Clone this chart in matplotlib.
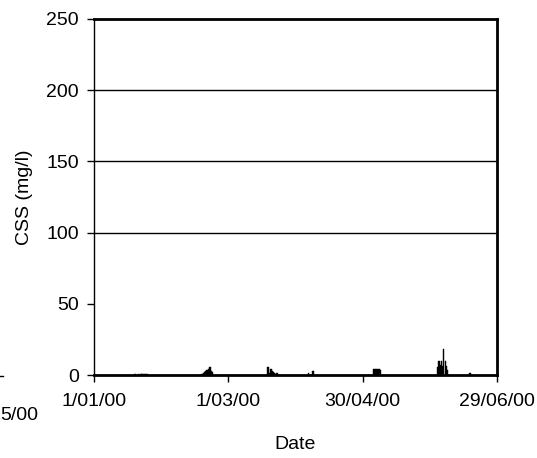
import matplotlib
matplotlib.use("Agg")
import matplotlib.pyplot as plt
import matplotlib.dates as mdates
from matplotlib.ticker import FuncFormatter
from matplotlib.lines import Line2D
import pandas as pd

plt.rcParams['font.family'] = ['Liberation Sans', 'DejaVu Sans']

# CSS samples: days after 1 Jan 2000 and concentration (mg/l)
day_offset = [18.4, 19.8, 21.0, 21.5, 22.3, 23.0, 23.6,
              48.3, 48.8, 49.4, 49.9, 50.4, 50.9, 51.4, 51.9, 52.4, 52.9,
              77.5, 78.0, 78.5, 79.0, 79.5, 80.0, 80.5, 81.0, 81.7,
              95.8, 97.8,
              124.9, 125.4, 125.9, 126.4, 126.9, 127.4, 127.9,
              153.4, 154.0, 154.5, 155.1, 155.7, 156.2, 157.0, 157.5, 158.0,
              167.9]
css = [0.8, 0.7, 0.8, 0.7, 0.8, 0.7, 0.8,
       0.8, 1.2, 1.8, 2.5, 3.3, 3.0, 4.5, 5.5, 2.6, 2.2,
       5.5, 5.8, 1.5, 4.5, 2.5, 2.0, 1.5, 1.0, 1.2,
       1.4, 2.6,
       4.2, 4.2, 4.0, 2.2, 4.2, 4.2, 3.5,
       5.9, 9.8, 7.0, 9.8, 6.0, 18.0, 9.8, 6.5, 3.5,
       1.6]

start = pd.Timestamp("2000-01-01")
end = pd.Timestamp("2000-06-29")
dates = [start + pd.Timedelta(days=d) for d in day_offset]
tick_dates = [start + pd.Timedelta(days=60 * i) for i in range(4)]
y_ticks = [0, 50, 100, 150, 200, 250]
grid_levels = [100, 150, 200]

fig = plt.figure(figsize=(5.37, 4.58), dpi=100)
ax = fig.add_axes([94 / 537, 1 - 375 / 458, 403 / 537, 356 / 458])

ax.bar(dates, css, width=0.65, color='black', edgecolor='black', linewidth=0.3,
       align='center', zorder=3)

for g in grid_levels:
    ax.axhline(g, color='black', lw=1, zorder=1)

ax.set_xlim(start, end)
ax.set_ylim(0, 250)
ax.set_yticks(y_ticks)
ax.set_xticks(tick_dates)
ax.xaxis.set_major_formatter(FuncFormatter(
    lambda v, p: (lambda d: f"{d.day}/{d.month:02d}/{d.year % 100:02d}")(mdates.num2date(v))))

ax.tick_params(axis='both', direction='out', length=5, width=1, labelsize=14, color='black')
ax.tick_params(axis='x', pad=8)
ax.tick_params(axis='y', pad=6)

ax.spines['left'].set_linewidth(1)
ax.spines['bottom'].set_linewidth(2)
ax.spines['top'].set_linewidth(2)
ax.spines['right'].set_linewidth(2)

ax.set_ylabel("CSS (mg/l)", fontsize=14)
ax.yaxis.set_label_coords(-0.152, 0.5)
ax.set_xlabel("Date", fontsize=14, va='top')
ax.xaxis.set_label_coords(0.5, -0.172)

# pieces of the neighbouring panel at the left edge
fig.text(0, 1 - 415 / 458, "5/00", fontsize=14, ha='left', va='center')
fig.add_artist(Line2D([0, 3 / 537], [1 - 376 / 458, 1 - 376 / 458], color='black', lw=1))

fig.savefig("out.png", dpi=100)
